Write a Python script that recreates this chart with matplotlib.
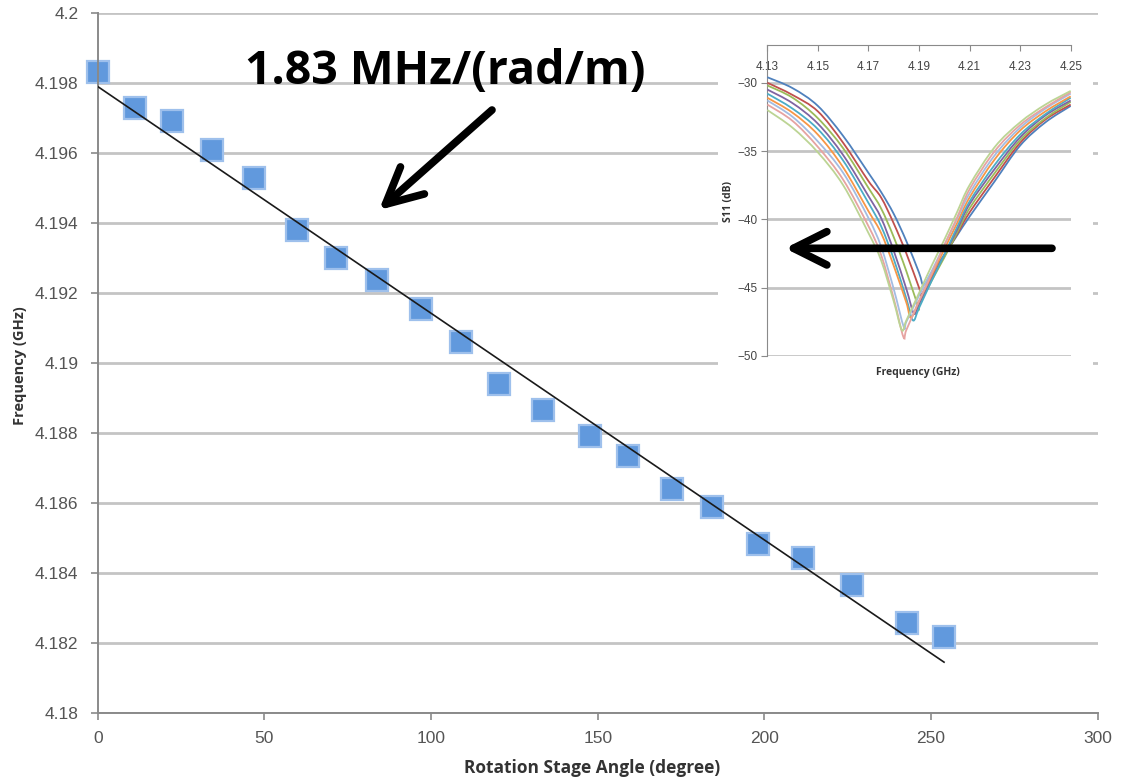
import numpy as np
import matplotlib
matplotlib.use('Agg')
import matplotlib.pyplot as plt
from matplotlib.patches import Rectangle, PathPatch
from matplotlib.path import Path

# ---- main chart: resonance frequency vs rotation stage angle ----
angle_deg = [0, 11.2, 22.2, 34.4, 46.9, 59.9, 71.4, 83.9, 96.9, 108.9, 120.3,
             133.5, 147.7, 159.2, 172.4, 184.2, 198.0, 211.7, 226.4, 242.7, 253.9]
freq_ghz = [4.19831, 4.19727, 4.19691, 4.19608, 4.19527, 4.19379, 4.19298,
            4.19236, 4.19153, 4.19060, 4.18938, 4.18865, 4.18791, 4.18733,
            4.18638, 4.18587, 4.18482, 4.18443, 4.18365, 4.18255, 4.18215]
x_ticks = [0, 50, 100, 150, 200, 250, 300]
y_ticks = [4.18, 4.182, 4.184, 4.186, 4.188, 4.19, 4.192, 4.194, 4.196, 4.198, 4.2]
y_tick_labels = ['4.18', '4.182', '4.184', '4.186', '4.188', '4.19', '4.192',
                 '4.194', '4.196', '4.198', '4.2']

# ---- inset: S11 sweeps ----
s11_freq = [4.13, 4.14, 4.15, 4.16, 4.17, 4.175, 4.18, 4.185, 4.19, 4.195,
            4.20, 4.205, 4.21, 4.22, 4.23, 4.24, 4.25]
s11_db = [
    [-29.6, -30.4, -31.7, -33.9, -36.6, -38.0, -39.6, -41.6, -43.9, -43.9, -42.6, -41.2, -39.8, -37.2, -34.6, -32.9, -31.7],
    [-30.0, -30.9, -32.1, -34.4, -37.2, -38.4, -40.3, -42.5, -45.0, -44.2, -42.7, -41.1, -39.5, -36.9, -34.4, -32.7, -31.6],
    [-30.2, -31.1, -32.6, -34.8, -37.7, -39.2, -41.3, -43.8, -46.3, -44.5, -42.8, -41.0, -39.2, -36.6, -34.2, -32.6, -31.4],
    [-30.5, -31.5, -33.0, -35.3, -38.3, -39.9, -42.3, -45.1, -46.2, -44.4, -42.6, -40.8, -38.9, -36.3, -34.0, -32.4, -31.3],
    [-30.8, -31.9, -33.4, -35.7, -38.8, -40.5, -42.9, -45.8, -46.5, -44.5, -42.6, -40.6, -38.7, -36.0, -33.8, -32.3, -31.1],
    [-31.1, -32.2, -33.8, -36.2, -39.4, -41.0, -43.4, -46.1, -46.0, -44.1, -42.2, -40.3, -38.4, -35.6, -33.5, -32.1, -31.0],
    [-31.3, -32.5, -34.3, -36.6, -39.9, -42.0, -45.1, -47.5, -45.6, -43.8, -41.9, -40.0, -38.1, -35.3, -33.3, -31.9, -30.8],
    [-31.6, -32.8, -34.7, -37.1, -40.5, -42.6, -45.8, -48.1, -46.0, -44.0, -41.9, -39.9, -37.8, -35.0, -33.1, -31.8, -30.7],
    [-32.0, -33.3, -35.1, -37.5, -41.0, -43.0, -46.0, -47.4, -45.4, -43.4, -41.5, -39.5, -37.5, -34.7, -32.9, -31.6, -30.6],
]
dip_freq = [4.1918, 4.1910, 4.1897, 4.1880, 4.1876, 4.1868, 4.1840, 4.1838, 4.1832]
dip_db = [-44.8, -45.5, -46.4, -46.9, -47.4, -47.2, -47.9, -48.6, -48.1]
s11_colors = ['#4F81BD', '#C0504D', '#9BBB59', '#8064A2', '#4BACC6', '#F79646',
              '#A3BCE2', '#E6A3A1', '#BCD494']
s11_xticks = [4.13, 4.15, 4.17, 4.19, 4.21, 4.23, 4.25]
s11_yticks = [-50, -45, -40, -35, -30]

W, H = 1146, 778
GRID = '#C4C4C4'
SPINE = '#8A8A8A'
TICKC = '#555555'


def smooth_path(x, y):
    # Excel-style smoothed line: cubic bezier through the points (Catmull-Rom)
    p = np.column_stack([x, y])
    verts = [p[0]]
    codes = [Path.MOVETO]
    n = len(p)
    for i in range(n - 1):
        p0 = p[max(i - 1, 0)]; p1 = p[i]; p2 = p[i + 1]; p3 = p[min(i + 2, n - 1)]
        verts += [p1 + (p2 - p0) / 6.0, p2 - (p3 - p1) / 6.0, p2]
        codes += [Path.CURVE4] * 3
    return Path(verts, codes)


plt.rcParams['font.family'] = ['Liberation Sans', 'DejaVu Sans']

fig = plt.figure(figsize=(W / 100, H / 100), dpi=100)
fig.patch.set_facecolor('white')

# main axes, placed by pixel box
ax = fig.add_axes([97.7 / W, 1 - 712.7 / H, 1000 / W, 700 / H], zorder=1)
ax.set_xlim(0, 300)
ax.set_ylim(4.18, 4.2)
ax.set_xticks(x_ticks)
ax.set_yticks(y_ticks)
ax.set_yticklabels(y_tick_labels)
ax.yaxis.grid(True, color=GRID, lw=2.0)
ax.set_axisbelow(True)
for s in ['top', 'right']:
    ax.spines[s].set_visible(False)
for s in ['left', 'bottom']:
    ax.spines[s].set_color(SPINE); ax.spines[s].set_linewidth(1.4)
ax.tick_params(axis='both', colors=SPINE, labelcolor=TICKC, labelsize=12.5,
               length=5, width=1.2, direction='out')
ax.tick_params(axis='y', pad=9)
ax.tick_params(axis='x', pad=8)

# trendline from least squares fit of the points
slope, icpt = np.polyfit(angle_deg, freq_ghz, 1)
xl = np.array([0, max(angle_deg)])
ax.plot(xl, slope * xl + icpt, color='#1a1a1a', lw=1.2, zorder=3)
ax.plot(angle_deg, freq_ghz, ls='none', marker='s', markersize=16.5,
        markerfacecolor='#6199DD', markeredgecolor='#9EC0EC',
        markeredgewidth=1.6, zorder=2, clip_on=False)

fig.text(592 / W, 1 - 768 / H, 'Rotation Stage Angle (degree)', ha='center',
         va='center', fontsize=12.5, fontweight='bold', color='#333333',
         family='Open Sans')
fig.text(20 / W, 1 - 366 / H, 'Frequency (GHz)', ha='center', va='center',
         rotation=90, fontsize=10.5, fontweight='bold', color='#333333',
         family='Open Sans')

# big annotation
fig.text(245 / W, 1 - 72 / H, '1.83 MHz/(rad/m)', ha='left', va='center',
         fontsize=33.5, fontweight='bold', color='black', family='Open Sans')
ax.annotate('', xy=(379 / W, 1 - 210 / H), xytext=(492 / W, 1 - 110 / H),
            xycoords='figure fraction', textcoords='figure fraction',
            arrowprops=dict(arrowstyle='->,head_length=1.3,head_width=0.65',
                            lw=5.5, color='black', mutation_scale=20,
                            shrinkA=0, shrinkB=0))

# white panel behind the inset
fig.add_artist(Rectangle((718 / W, 1 - 390 / H), 375 / W, 365 / H,
                         transform=fig.transFigure, facecolor='white',
                         edgecolor='none', zorder=2))

ax_in = fig.add_axes([767.3 / W, 1 - 355.9 / H, 303.4 / W, 310.9 / H], zorder=3)
ax_in.set_facecolor('white')
ax_in.set_xlim(4.13, 4.25)
ax_in.set_ylim(-50, -27.24)
ax_in.set_xticks(s11_xticks)
ax_in.set_xticklabels([f'{v:.2f}' for v in s11_xticks])
ax_in.set_yticks(s11_yticks)
ax_in.yaxis.grid(True, color=GRID, lw=2.0)
ax_in.set_axisbelow(True)
ax_in.spines['right'].set_visible(False)
ax_in.spines['bottom'].set_visible(False)
ax_in.spines['top'].set_color(SPINE)
ax_in.spines['left'].set_color(SPINE)
ax_in.xaxis.tick_top()
ax_in.tick_params(axis='x', direction='in', length=4, colors=SPINE,
                  labelcolor='#444444', labelsize=8.5, pad=-20)
ax_in.tick_params(axis='y', direction='out', length=4, colors=SPINE,
                  labelcolor='#444444', labelsize=8.5, pad=3)

for k in range(len(s11_db)):
    f = np.array(s11_freq + [dip_freq[k]])
    v = np.array(s11_db[k] + [dip_db[k]])
    o = np.argsort(f)
    ax_in.add_patch(PathPatch(smooth_path(f[o], v[o]), fill=False,
                              edgecolor=s11_colors[k], lw=1.3, zorder=3))

fig.text(918 / W, 1 - 372 / H, 'Frequency (GHz)', ha='center', va='center',
         fontsize=7.5, fontweight='bold', color='#333333', family='Open Sans',
         zorder=4)
fig.text(729 / W, 1 - 202 / H, 'S11 (dB)', ha='center', va='center',
         rotation=90, fontsize=7.5, fontweight='bold', color='#333333',
         family='Open Sans', zorder=4)

ax_in.annotate('', xy=(785 / W, 1 - 248.3 / H), xytext=(1052 / W, 1 - 248.3 / H),
               xycoords='figure fraction', textcoords='figure fraction',
               annotation_clip=False,
               arrowprops=dict(arrowstyle='->,head_length=1.2,head_width=0.6',
                               lw=5.5, color='black', mutation_scale=20,
                               shrinkA=0, shrinkB=0), zorder=5)

fig.savefig('out.png', dpi=100)
